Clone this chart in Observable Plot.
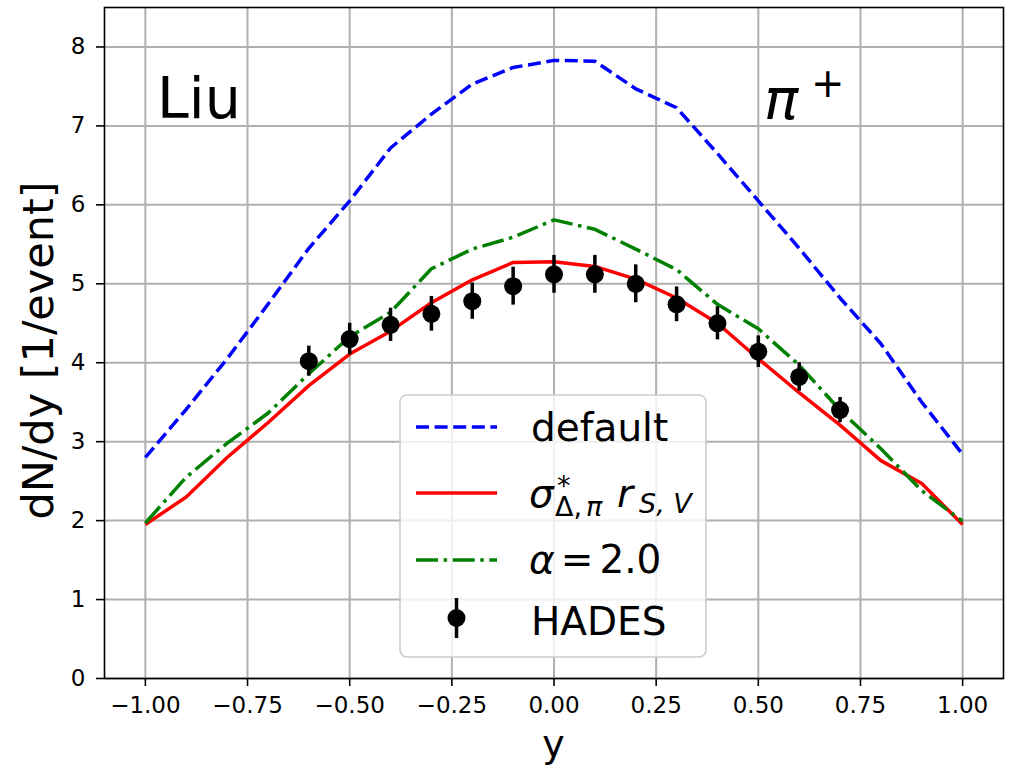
<!DOCTYPE html>
<html>
<head>
<meta charset="utf-8">
<script src="https://cdn.jsdelivr.net/npm/d3@7"></script>
<script src="https://cdn.jsdelivr.net/npm/@observablehq/plot@0.6"></script>
<style>
  html, body { margin: 0; padding: 0; background: white; overflow: hidden; }
  #chart svg { display: block; }
</style>
</head>
<body>
<div id="chart"></div>
<script>
// ---- data ----
const rapidity = [-1.0, -0.9, -0.8, -0.7, -0.6, -0.5, -0.4, -0.3, -0.2, -0.1, 0.0,
                  0.1, 0.2, 0.3, 0.4, 0.5, 0.6, 0.7, 0.8, 0.9, 1.0];
const defaultDN = [2.80, 3.41, 4.05, 4.74, 5.45, 6.05, 6.72, 7.15, 7.53, 7.74, 7.83,
                   7.82, 7.47, 7.23, 6.65, 6.05, 5.45, 4.82, 4.24, 3.50, 2.84];
const sigmaDN   = [1.95, 2.30, 2.80, 3.24, 3.71, 4.11, 4.40, 4.76, 5.05, 5.27, 5.28,
                   5.22, 5.06, 4.82, 4.50, 4.05, 3.62, 3.21, 2.76, 2.47, 1.95];
const alphaDN   = [1.97, 2.55, 2.98, 3.36, 3.86, 4.33, 4.64, 5.19, 5.44, 5.59, 5.81,
                   5.69, 5.44, 5.18, 4.74, 4.43, 3.97, 3.40, 2.91, 2.38, 1.99];
const hadesY    = [-0.6, -0.5, -0.4, -0.3, -0.2, -0.1, 0.0, 0.1, 0.2, 0.3, 0.4, 0.5, 0.6, 0.7];
const hadesDN   = [4.02, 4.30, 4.48, 4.62, 4.78, 4.97, 5.12, 5.12, 5.00, 4.74, 4.50, 4.14, 3.82, 3.40];
const hadesErr  = [0.19, 0.20, 0.21, 0.22, 0.23, 0.24, 0.24, 0.24, 0.24, 0.22, 0.21, 0.20, 0.18, 0.16];
const xTicks = [-1.0, -0.75, -0.5, -0.25, 0.0, 0.25, 0.5, 0.75, 1.0];
const yTicks = [0, 1, 2, 3, 4, 5, 6, 7, 8];
const seriesNames = ["default", "sigma", "alpha"];
const xLabel = "y";
const yLabel = "dN/dy [1/event]";

// ---- tables built from the arrays ----
const curves = [];
rapidity.forEach((r, i) => {
  curves.push({series: "default", y: r, dn: defaultDN[i]});
  curves.push({series: "sigma", y: r, dn: sigmaDN[i]});
  curves.push({series: "alpha", y: r, dn: alphaDN[i]});
});
const hades = hadesY.map((r, i) => ({y: r, dn: hadesDN[i], lo: hadesDN[i] - hadesErr[i], hi: hadesDN[i] + hadesErr[i]}));

const FONT = "DejaVu Sans";
const lineStyle = {
  default: {stroke: "#0000ff", dash: "13,5.6"},
  sigma:   {stroke: "#ff0000", dash: null},
  alpha:   {stroke: "#008000", dash: "22,5.6,3.5,5.6"}
};

const chart = Plot.plot({
  width: 1020,
  height: 771,
  marginLeft: 104,
  marginRight: 17,
  marginTop: 7,
  marginBottom: 93,
  style: {fontFamily: FONT, background: "white", color: "black"},
  x: {domain: [-1.1, 1.1]},
  y: {domain: [0, 8.5]},
  marks: [
    Plot.gridX({ticks: xTicks, stroke: "#b0b0b0", strokeOpacity: 1, strokeWidth: 2}),
    Plot.gridY({ticks: yTicks, stroke: "#b0b0b0", strokeOpacity: 1, strokeWidth: 2}),
    ...seriesNames.map(s => Plot.line(curves.filter(d => d.series === s), {
      x: "y", y: "dn", stroke: lineStyle[s].stroke, strokeWidth: 3.5,
      strokeDasharray: lineStyle[s].dash, strokeLinejoin: "round", strokeLinecap: "butt"
    })),
    Plot.ruleX(hades, {x: "y", y1: "lo", y2: "hi", stroke: "black", strokeWidth: 3.5}),
    Plot.dot(hades, {x: "y", y: "dn", r: 9, fill: "black", stroke: "none"}),
    Plot.frame({stroke: "black", strokeWidth: 1.6}),
    Plot.axisX({ticks: xTicks, tickFormat: d3.format(".2f"), tickSize: 8, tickPadding: 10,
                fontSize: 23, strokeWidth: 1.6, label: null}),
    Plot.axisY({ticks: yTicks, tickFormat: d3.format("d"), tickSize: 8, tickPadding: 11,
                fontSize: 23, strokeWidth: 1.6, label: null})
  ]
});

document.getElementById("chart").appendChild(chart);

// ---- annotations, axis titles and legend ----
const svg = d3.select(chart);
const sx = chart.scale("x"), sy = chart.scale("y");
const g = svg.append("g").attr("font-family", FONT).attr("fill", "black").attr("text-anchor", "start");

// axis titles
g.append("text").attr("x", sx.apply(0)).attr("y", 757)
  .attr("text-anchor", "middle").attr("font-size", 38).text(xLabel);
g.append("text").attr("transform", `translate(53, ${(sy.apply(0) + sy.apply(8.5)) / 2 + 8}) rotate(-90)`)
  .attr("text-anchor", "middle").attr("font-size", 43).text(yLabel);

// in-plot labels
g.append("text").attr("x", sx.apply(-0.97)).attr("y", sy.apply(7.1))
  .attr("font-size", 57).text("Liu");
g.append("text").attr("x", sx.apply(0.515)).attr("y", sy.apply(7.08))
  .attr("font-size", 57).attr("font-style", "italic").text("π");
g.append("text").attr("x", sx.apply(0.63)).attr("y", sy.apply(7.36))
  .attr("font-size", 40).text("+");

// legend
const L = {x: 400, y: 395, w: 306, h: 262};
const leg = g.append("g");
leg.append("rect").attr("x", L.x).attr("y", L.y).attr("width", L.w).attr("height", L.h)
  .attr("rx", 7).attr("fill", "white").attr("fill-opacity", 0.8)
  .attr("stroke", "#cccccc").attr("stroke-width", 1.6);
const rows = [427, 493, 560];
seriesNames.forEach((s, i) => {
  leg.append("line").attr("x1", 416).attr("x2", 497).attr("y1", rows[i]).attr("y2", rows[i])
    .attr("stroke", lineStyle[s].stroke).attr("stroke-width", 3.5)
    .attr("stroke-dasharray", lineStyle[s].dash);
});
leg.append("line").attr("x1", 456.5).attr("x2", 456.5).attr("y1", 598).attr("y2", 638)
  .attr("stroke", "black").attr("stroke-width", 3.5);
leg.append("circle").attr("cx", 456.5).attr("cy", 618).attr("r", 9).attr("fill", "black");

const FS = 39, SUB = 27;
leg.append("text").attr("x", 531).attr("y", 441).attr("font-size", FS).text("default");
// sigma*_{Δ,π} r_{S,V}
leg.append("text").attr("x", 529).attr("y", 507).attr("font-size", FS).attr("font-style", "italic").text("σ");
leg.append("text").attr("x", 557).attr("y", 495).attr("font-size", SUB).text("*");
const sub1 = leg.append("text").attr("x", 555).attr("y", 516).attr("font-size", SUB);
sub1.append("tspan").text("Δ,");
sub1.append("tspan").attr("dx", 4).attr("font-style", "italic").text("π");
leg.append("text").attr("x", 617).attr("y", 507).attr("font-size", FS).attr("font-style", "italic").text("r");
leg.append("text").attr("x", 639).attr("y", 513).attr("font-size", SUB).attr("font-style", "italic").text("S, V");
// alpha = 2.0
const al = leg.append("text").attr("x", 529).attr("y", 573).attr("font-size", FS);
al.append("tspan").attr("font-style", "italic").text("α");
al.append("tspan").attr("dx", 6).text("=");
al.append("tspan").attr("dx", 6).text("2.0");
leg.append("text").attr("x", 531).attr("y", 635).attr("font-size", FS).text("HADES");
</script>
</body>
</html>
